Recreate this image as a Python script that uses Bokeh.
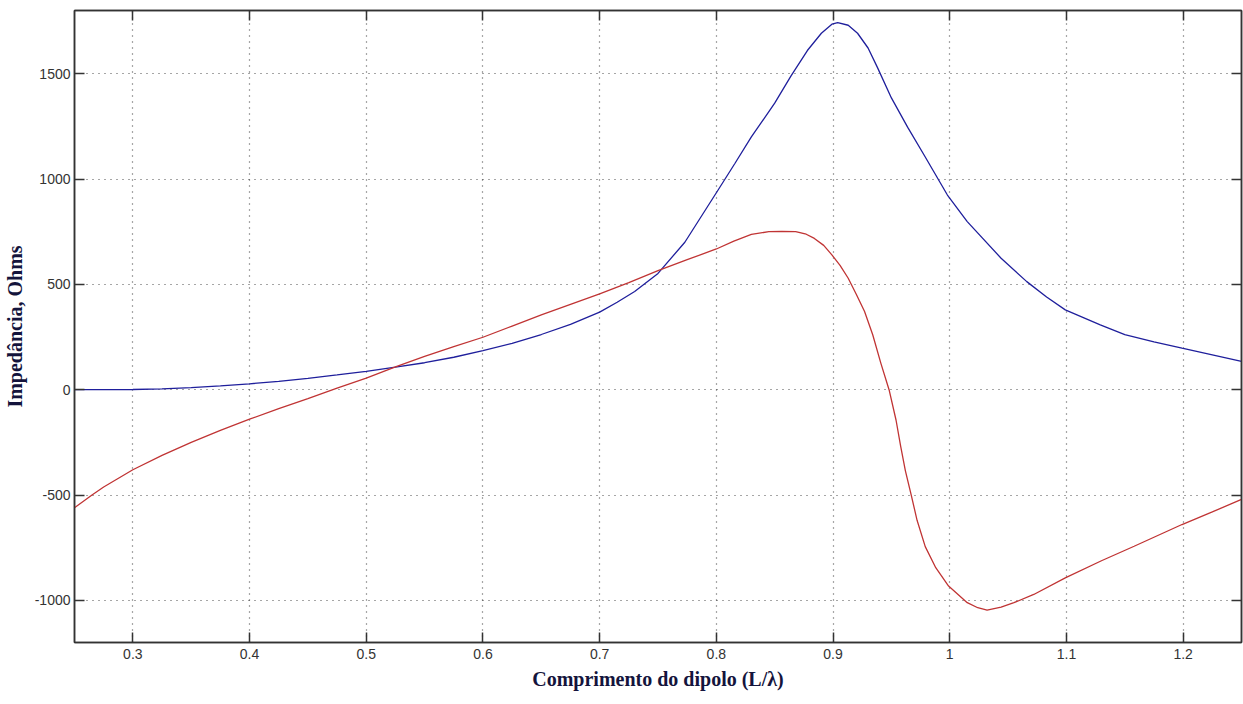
from bokeh.plotting import figure
from bokeh.models import Range1d, LinearAxis, FixedTicker
from bokeh.embed import file_html
from bokeh.resources import INLINE

# Resistance (blue) curve: dipole length L/lambda vs impedance (Ohms)
r_x = [0.25, 0.275, 0.3, 0.325, 0.35, 0.375, 0.4, 0.425, 0.45, 0.475, 0.5,
       0.525, 0.55, 0.575, 0.6, 0.625, 0.65, 0.675, 0.7, 0.715, 0.73, 0.75,
       0.773, 0.8, 0.816, 0.83, 0.85, 0.864, 0.878, 0.89, 0.899, 0.904, 0.913,
       0.921, 0.93, 0.938, 0.95, 0.964, 0.978, 0.998, 1.015, 1.044, 1.066,
       1.083, 1.099, 1.129, 1.15, 1.175, 1.199, 1.225, 1.25]
r_y = [0, 0, 1, 4, 10, 18, 28, 40, 54, 70, 87,
       107, 128, 154, 185, 220, 262, 310, 368, 415, 466, 552,
       700, 935, 1075, 1200, 1360, 1490, 1610, 1692, 1735, 1742, 1730,
       1692, 1622, 1530, 1385, 1245, 1114, 924, 798, 624, 513,
       440, 379, 308, 261, 227, 197, 165, 134]

# Reactance (red) curve
x_x = [0.25, 0.265, 0.275, 0.3, 0.325, 0.35, 0.375, 0.4, 0.425, 0.45, 0.475,
       0.5, 0.525, 0.55, 0.575, 0.6, 0.625, 0.65, 0.675, 0.7, 0.725, 0.75,
       0.775, 0.8, 0.815, 0.83, 0.845, 0.856, 0.868, 0.877, 0.884, 0.892,
       0.899, 0.906, 0.913, 0.92, 0.927, 0.934, 0.941, 0.948, 0.954, 0.958,
       0.962, 0.967, 0.972, 0.979, 0.988, 0.999, 1.015, 1.024, 1.032, 1.044,
       1.055, 1.072, 1.099, 1.13, 1.158, 1.199, 1.225, 1.25]
x_y = [-560, -500, -462, -380, -312, -250, -193, -140, -90, -42, 8,
       55, 108, 158, 204, 249, 302, 355, 405, 455, 508, 565,
       617, 668, 705, 737, 750, 752, 750, 738, 718, 685,
       640, 590, 529, 452, 371, 261, 125, 0, -145, -270,
       -385, -500, -620, -745, -845, -932, -1011, -1035, -1046, -1032,
       -1011, -972, -893, -812, -743, -640, -580, -521]

x_ticks = [0.3, 0.4, 0.5, 0.6, 0.7, 0.8, 0.9, 1.0, 1.1, 1.2]
x_tick_labels = ["0.3", "0.4", "0.5", "0.6", "0.7", "0.8", "0.9", "1", "1.1", "1.2"]
y_ticks = [-1000, -500, 0, 500, 1000, 1500]
y_tick_labels = ["-1000", "-500", "0", "500", "1000", "1500"]

x_label = "Comprimento do dipolo (L/λ)"
y_label = "Impedância, Ohms"

p = figure(width=1243, height=704, x_range=Range1d(0.25, 1.25),
           y_range=Range1d(-1200, 1800), output_backend="svg",
           toolbar_location=None, min_border_left=72, min_border_right=2,
           min_border_top=10, min_border_bottom=62,
           background_fill_color="white", border_fill_color="white")

p.outline_line_color = "#333333"
p.outline_line_width = 1.5

for ax in (p.xaxis[0], p.yaxis[0]):
    ax.major_tick_in = 10
    ax.major_tick_out = 0
    ax.minor_tick_in = 0
    ax.minor_tick_out = 0
    ax.axis_line_color = "#333333"
    ax.axis_line_width = 1.5
    ax.major_tick_line_color = "#333333"
    ax.major_tick_line_width = 1.5
    ax.major_label_text_font = "Liberation Sans"
    ax.major_label_text_font_size = "14px"
    ax.major_label_text_color = "#333333"
    ax.axis_label_text_font = "Liberation Serif"
    ax.axis_label_text_font_style = "bold"
    ax.axis_label_text_font_size = "20px"
    ax.axis_label_text_color = "#14143c"

p.xaxis[0].ticker = FixedTicker(ticks=x_ticks)
p.xaxis[0].major_label_overrides = dict(zip(x_ticks, x_tick_labels))
p.yaxis[0].ticker = FixedTicker(ticks=y_ticks)
p.yaxis[0].major_label_overrides = dict(zip(y_ticks, y_tick_labels))
p.xaxis[0].axis_label = x_label
p.yaxis[0].axis_label = y_label
p.xaxis[0].major_label_standoff = 6
p.xaxis[0].axis_label_standoff = 6
p.yaxis[0].major_label_standoff = 4
p.yaxis[0].axis_label_standoff = 6

top = LinearAxis(ticker=FixedTicker(ticks=x_ticks),
                 major_label_overrides={t: "" for t in x_ticks},
                 major_label_standoff=0,
                 major_tick_in=10, major_tick_out=0, minor_tick_in=0, minor_tick_out=0,
                 axis_line_color="#333333", axis_line_width=1.5,
                 major_tick_line_color="#333333", major_tick_line_width=1.5)
right = LinearAxis(ticker=FixedTicker(ticks=y_ticks),
                   major_label_overrides={t: "" for t in y_ticks},
                   major_label_standoff=0,
                   major_tick_in=10, major_tick_out=0, minor_tick_in=0, minor_tick_out=0,
                   axis_line_color="#333333", axis_line_width=1.5,
                   major_tick_line_color="#333333", major_tick_line_width=1.5)
p.add_layout(top, "above")
p.add_layout(right, "right")

p.xgrid.ticker = FixedTicker(ticks=x_ticks)
p.ygrid.ticker = FixedTicker(ticks=y_ticks)
for g in (p.xgrid[0], p.ygrid[0]):
    g.grid_line_color = "#222222"
    g.grid_line_dash = "1 5"
    g.grid_line_width = 1.2
    g.grid_line_alpha = 0.8

p.line(r_x, r_y, line_color="#1f1f9c", line_width=1.3)
p.line(x_x, x_y, line_color="#c03434", line_width=1.3)

open("out.html", "w").write(file_html(p, INLINE))
